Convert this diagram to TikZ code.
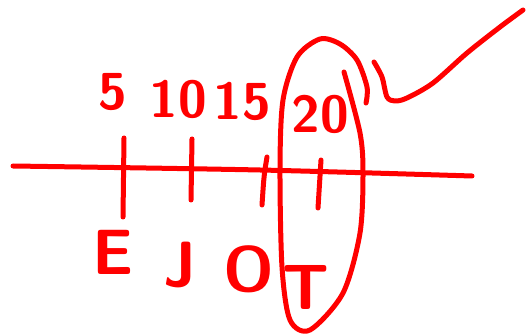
\documentclass[tikz,border=0pt]{standalone}
\usepackage{tikz}

\begin{document}
\begin{tikzpicture}[x=1pt,y=-1pt,
    ink/.style={red,line width=5pt,line cap=round,line join=round},
    num/.style={red,font=\sffamily\bfseries\fontsize{52}{52}\selectfont},
    letter/.style={red,font=\sffamily\bfseries\fontsize{64}{64}\selectfont}]
    \useasboundingbox (0,0) rectangle (529,336);
    % axis and ticks
    \draw[ink] plot[smooth] coordinates {(13,166) (260,170) (472,176)};
    \draw[ink] (124,138) -- (123,217);
    \draw[ink] (192,139) -- (191,200);
    \draw[ink] (267,157) .. controls (264,175) .. (262,205);
    \draw[ink] (321,160) -- (318,208);
    % labels above
    \node[num] (five) at (113,92) {5};
    \node[num] (ten) at (178,99) {10};
    \node[num] (fifteen) at (242,101) {15};
    \node[num] (twenty) at (320,114) {20};
    % labels below
    \node[letter] (e) at (113,252) {E};
    \node[letter] (j) at (180,265) {J};
    \node[letter] (o) at (249,269) {O};
    \node[letter] (t) at (306,287) {T};
    % loop round the last column
    \draw[ink] plot[smooth] coordinates {(344,72) (360,133) (363,173) (360,233)
        (343,293) (310,330) (290,320) (282,267) (280,167) (283,100) (297,57)
        (320,39) (340,44) (357,60) (367,87) (366,103)};
    % tail
    \draw[ink] plot[smooth] coordinates {(374,62) (382,77) (387,97) (395,101)
        (407,98) (433,83) (467,53) (500,27) (523,10)};
\end{tikzpicture}
\end{document}
